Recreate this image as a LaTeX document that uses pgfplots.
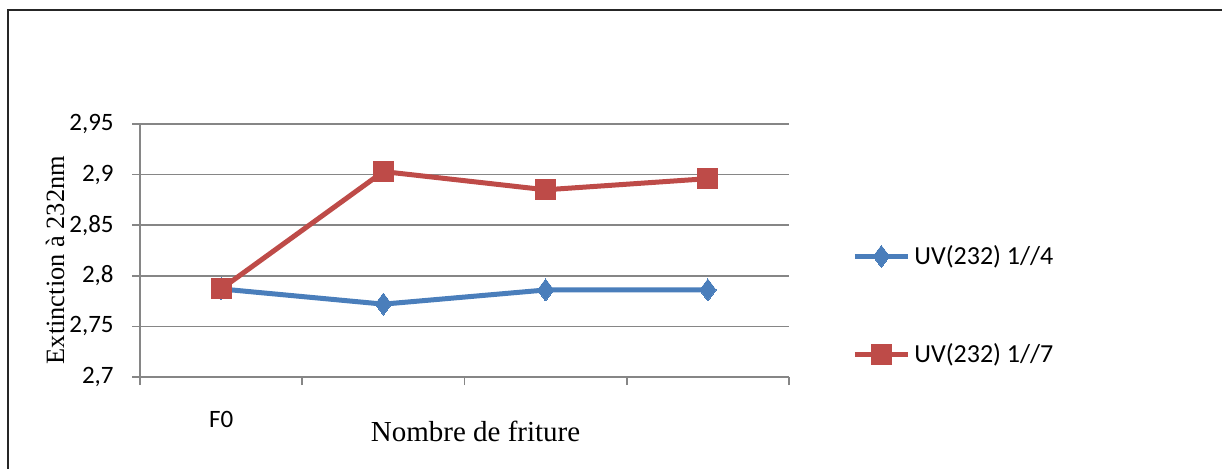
\documentclass[border=0pt]{standalone}
\usepackage{pgfplots}
\pgfplotsset{compat=1.18}
\usepackage{fontspec}
\setmainfont{Liberation Serif}
\newfontfamily\calibri{Carlito}
\definecolor{cblue}{RGB}{74,126,187}
\definecolor{cred}{RGB}{190,75,72}
\definecolor{cgrid}{RGB}{134,134,134}
\newcommand{\tfont}{\fontsize{12.5}{14}\selectfont\calibri}
\begin{document}
\begin{tikzpicture}[x=1pt,y=1pt]
\useasboundingbox (0,0) rectangle (611,234);
\draw[line width=0.6pt, black!85] (4,-5) -- (4,229) -- (620,229);
\begin{axis}[
  at={(70pt,45.5pt)}, anchor=south west,
  scale only axis, width=324.5pt, height=126.5pt,
  xmin=0.5, xmax=4.5, ymin=2.7, ymax=2.95,
  ytick={2.7,2.75,2.8,2.85,2.9,2.95},
  yticklabels={{\tfont 2,7},{\tfont 2,75},{\tfont 2,8},{\tfont 2,85},{\tfont 2,9},{\tfont 2,95}},
  axis x line*=bottom, axis y line*=left,
  axis line style={cgrid, line width=0.8pt, -},
  ymajorgrids, grid style={cgrid, line width=0.8pt},
  tick align=outside, major tick length=4pt,
  tick style={cgrid, line width=0.8pt},
  xtick={0.5,1.5,2.5,3.5,4.5}, xticklabels={},
  extra x ticks={1}, extra x tick labels={{\tfont F0}},
  extra x tick style={major tick length=0pt},
  xticklabel style={anchor=center, yshift=-21pt},
  yticklabel style={anchor=east, inner sep=0pt, xshift=-9pt},
  xlabel={Nombre de friture},
  xlabel style={at={(axis description cs:0.517,0)}, anchor=center, yshift=-27pt, font=\fontsize{14.5}{17}\selectfont},
  ylabel={Extinction à 232nm},
  ylabel style={at={(axis description cs:-0.131,0.462)}, anchor=center, font=\fontsize{13.2}{16}\selectfont},
  legend style={at={(axis description cs:1.097,0.283)}, anchor=west, draw=none, fill=none, inner sep=0pt,
    row sep=34pt, font=\calibri\fontsize{13}{15}\selectfont},
  legend cell align=left,
  legend image code/.code={\draw[mark repeat=2,mark phase=2,#1] plot coordinates {(0pt,0pt) (13.25pt,0pt) (26.5pt,0pt)};},
]
\addplot[cblue, line width=2.5pt, mark=diamond*, mark size=5.5pt, mark options={solid, fill=cblue, line width=0pt}]
  coordinates {(1,2.787) (2,2.772) (3,2.786) (4,2.786)};
\addlegendentry{UV(232) 1//4}
\addplot[cred, line width=2.5pt, mark=square*, mark size=5pt, mark options={solid, fill=cred, line width=0pt}]
  coordinates {(1,2.787) (2,2.903) (3,2.885) (4,2.896)};
\addlegendentry{UV(232) 1//7}
\end{axis}
\end{tikzpicture}
\end{document}
